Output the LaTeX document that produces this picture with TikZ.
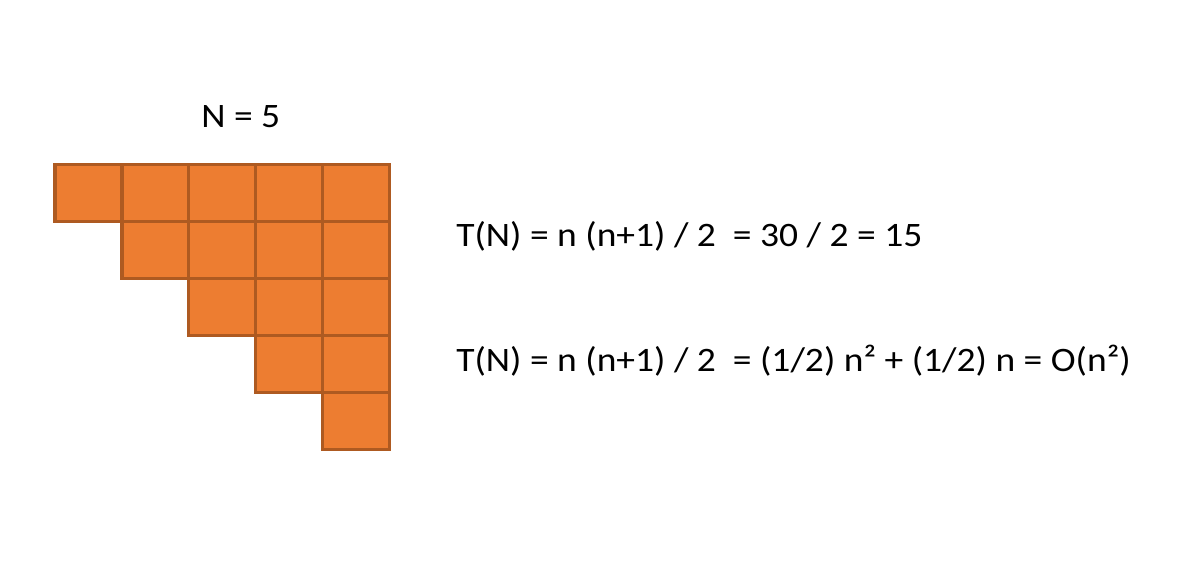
\documentclass[tikz,border=0pt]{standalone}
\usepackage{fontspec}
\setmainfont{Carlito}
\usetikzlibrary{positioning}

\definecolor{cellfill}{HTML}{ED7D31}
\definecolor{celledge}{HTML}{AE5A21}

% text in the reference runs a little wider than Carlito
\newcommand{\widetext}[1]{\scalebox{1.095}[1]{#1}}

\begin{document}
\begin{tikzpicture}[
    x=0.02cm, y=-0.02cm,
    cell/.style={draw=celledge, fill=cellfill, line width=1.9pt},
    formula/.style={inner sep=0pt, anchor=base west, font=\fontsize{19.5}{23}\selectfont},
]
\useasboundingbox (0,0) rectangle (1189,580);

% Title
\node[formula] (title) at (201,128) {\widetext{N = 5}};

% Staircase of cells
\foreach \r in {0,...,4} {
  \foreach \c in {\r,...,4} {
    \draw[cell] ({55+66.9*\c},{164.7+57*\r}) rectangle ++(66.9,57);
  }
}

% Formulas
\node[formula] (count) at (456,246.7) {\widetext{T(N) = n (n+1) / 2\ \ = 30 / 2 = 15}};
\node[formula] (order) at (456,372) {\widetext{T(N) = n (n+1) / 2\ \ = (1/2) n² + (1/2) n = O(n²)}};

\end{tikzpicture}
\end{document}
